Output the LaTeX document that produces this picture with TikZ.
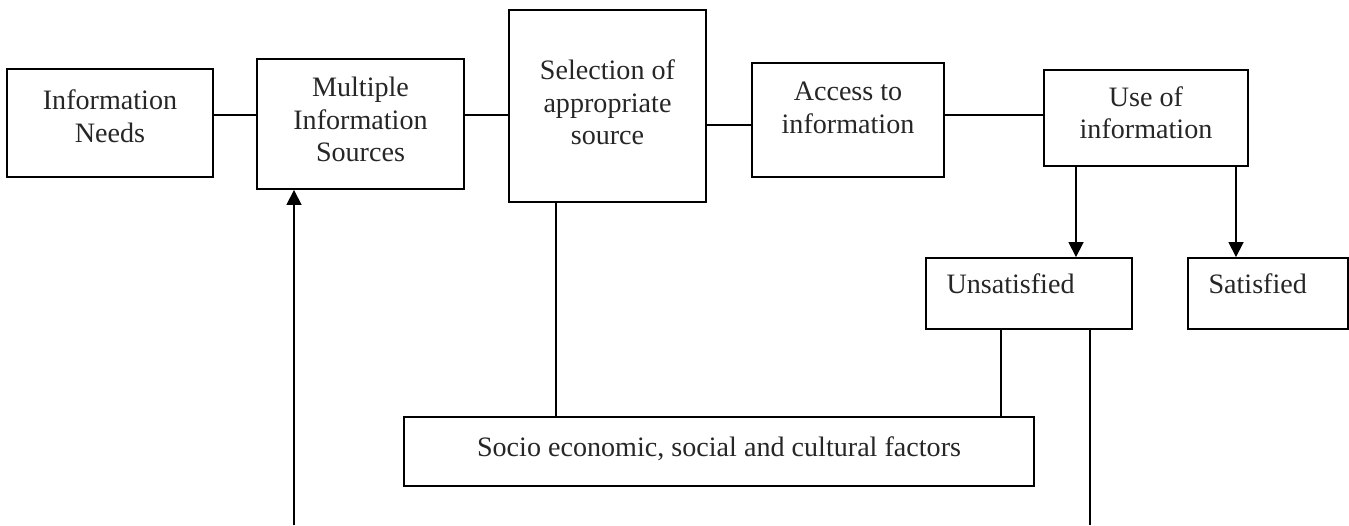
\documentclass[tikz,border=0pt]{standalone}
\usepackage{fontspec}
\setmainfont{Liberation Serif}
\usetikzlibrary{arrows.meta}

\tikzset{
  box/.style={draw, line width=1.1pt, inner sep=0pt, align=center, text=black!85,
    font=\fontsize{16}{18.5}\selectfont},
  leftbox/.style={box, align=left, inner xsep=0.41cm},
  arr/.style={-{Triangle[width=8.5pt,length=8.5pt]}},
}

\begin{document}
\begin{tikzpicture}[x=0.02cm, y=-0.02cm, line width=1pt]
      \useasboundingbox (0,0) rectangle (1349,525);

      \node[box, minimum width=4.12cm, minimum height=2.16cm, text depth=8pt] (needs) at (110,123) {Information\\Needs};
      \node[box, minimum width=4.14cm, minimum height=2.60cm, text depth=5pt] (multi) at (360.5,124) {Multiple\\Information\\Sources};
      \node[box, line width=1.6pt, minimum width=3.94cm, minimum height=3.84cm, text depth=4pt] (select) at (607.5,106) {Selection of\\appropriate\\source};
      \node[box, minimum width=3.84cm, minimum height=2.28cm, text depth=14pt] (access) at (848,120) {Access to\\information};
      \node[box, minimum width=4.08cm, minimum height=1.92cm, text depth=6pt] (use) at (1146,118) {Use of\\information};
      \node[leftbox, minimum height=1.42cm, text width=3.30cm, text depth=11pt] (unsat) at (1029,293.5) {Unsatisfied};
      \node[leftbox, minimum height=1.42cm, text width=2.38cm, text depth=11pt] (sat) at (1268,293.5) {Satisfied};
      \node[box, minimum width=12.60cm, minimum height=1.38cm, text depth=6pt] (socio) at (719,451.5) {Socio economic, social and cultural factors};

      \coordinate (row) at (0,115);
      \coordinate (row2) at (0,125);
      \coordinate (ua) at (1076,0);
      \coordinate (sa) at (1236,0);
      \coordinate (sl) at (556,0);
      \coordinate (ul) at (1001,0);
      \coordinate (fb) at (1090,525);
      \coordinate (mb) at (294,525);

      \draw (needs.east |- row) -- (multi.west |- row);
      \draw (multi.east |- row) -- (select.west |- row);
      \draw (select.east |- row2) -- (access.west |- row2);
      \draw (access.east |- row) -- (use.west |- row);
      \draw[arr] (use.south -| ua) -- (unsat.north -| ua);
      \draw[arr] (use.south -| sa) -- (sat.north -| sa);
      \draw (select.south -| sl) -- (socio.north -| sl);
      \draw (unsat.south -| ul) -- (socio.north -| ul);
      \draw (unsat.south -| fb) -- (fb);
      \draw[arr] (mb) -- (multi.south -| mb);
    \end{tikzpicture}
\end{document}
